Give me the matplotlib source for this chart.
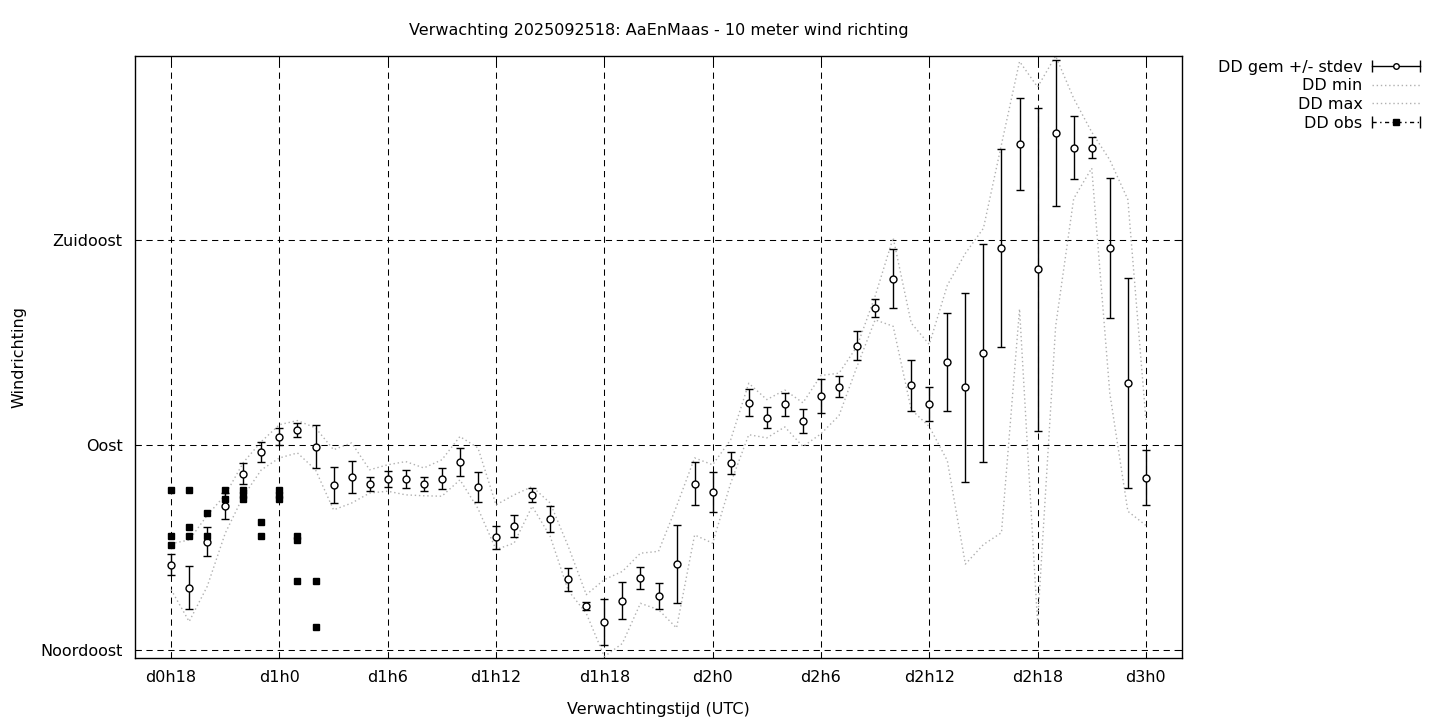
import numpy as np
import matplotlib
matplotlib.use("Agg")
import matplotlib.pyplot as plt
from matplotlib.lines import Line2D
from matplotlib.legend_handler import HandlerLine2D, HandlerTuple

# forecast hours (hours after d0h0)
hours = list(range(18, 73))

dd_gem = [63.7, 58.6, 68.7, 76.6, 83.6, 88.5, 91.8, 93.3, 89.6, 81.2,
          83.0, 81.4, 82.5, 82.5, 81.4, 82.5, 86.2, 80.7, 69.7, 72.2,
          79.0, 73.7, 60.5, 54.6, 51.1, 55.8, 60.7, 56.8, 63.8, 81.4,
          79.6, 86.0, 99.2, 95.9, 98.9, 95.2, 100.7, 102.7, 111.7, 120.0,
          126.4, 103.1, 99.0, 108.2, 102.6, 110.1, 133.2, 156.0, 128.5, 158.4,
          155.2, 155.2, 133.2, 103.5, 82.8]
dd_std = [2.3, 4.7, 3.2, 2.9, 2.3, 2.2, 1.8, 1.5, 4.8, 4.0,
          3.5, 1.5, 1.7, 2.0, 1.5, 2.3, 3.0, 3.3, 2.5, 2.4,
          1.5, 2.8, 2.5, 0.8, 5.0, 4.1, 2.4, 2.85, 8.6, 4.7,
          4.4, 2.5, 3.0, 2.3, 2.5, 2.6, 3.8, 2.3, 3.2, 1.9,
          6.5, 5.6, 3.7, 10.7, 20.7, 24.0, 21.7, 10.0, 35.4, 16.0,
          7.0, 2.3, 15.3, 23.0, 6.0]
dd_min = [58.2, 51.2, 58.9, 70.6, 78.7, 84.5, 87.1, 88.2, 84.5, 75.7,
          77.2, 79.4, 79.8, 79.0, 78.8, 78.7, 82.3, 76.0, 67.0, 68.4,
          76.5, 69.9, 58.0, 53.0, 43.5, 46.4, 55.2, 53.8, 49.8, 70.2,
          68.4, 81.6, 92.2, 91.5, 93.9, 89.6, 92.4, 96.4, 107.2, 117.4,
          116.0, 97.7, 94.0, 86.5, 63.8, 68.1, 70.7, 119.8, 50.8, 116.0,
          144.0, 150.7, 101.3, 75.4, 72.3]
dd_max = [68.3, 69.1, 74.5, 79.0, 86.1, 90.7, 94.4, 95.3, 93.7, 88.9,
          90.4, 84.5, 85.6, 86.3, 84.9, 86.7, 91.8, 89.3, 76.8, 79.0,
          80.8, 77.2, 67.7, 57.1, 60.4, 62.2, 66.2, 66.6, 76.5, 87.1,
          85.6, 91.1, 103.5, 99.9, 102.0, 99.2, 105.2, 105.7, 111.6, 122.6,
          135.4, 116.7, 112.0, 125.0, 132.0, 137.5, 155.9, 174.1, 168.5, 175.3,
          166.0, 158.6, 152.5, 143.8, 95.5]

# observations
obs_hours = [18, 18, 18, 19, 19, 19, 20, 20, 21, 21, 22, 22, 22,
             23, 23, 24, 24, 24, 25, 25, 25, 26, 26]
obs_dd = [80, 70, 68, 80, 72, 70, 75, 70, 80, 78, 80, 79, 78,
          73, 70, 80, 79, 78, 70, 69, 60, 60, 50]

xticks = [18, 24, 30, 36, 42, 48, 54, 60, 66, 72]
xlabels = ["d0h18", "d1h0", "d1h6", "d1h12", "d1h18", "d2h0",
           "d2h6", "d2h12", "d2h18", "d3h0"]
yticks = [45, 90, 135]
ylabels = ["Noordoost", "Oost", "Zuidoost"]

plt.rcParams["font.family"] = "DejaVu Sans"
plt.rcParams["font.size"] = 11.5

fig = plt.figure(figsize=(14.4, 7.2), dpi=100)
ax = fig.add_axes([135 / 1440, 62 / 720, (1182 - 135) / 1440, (664 - 62) / 720])

grid_ls = (0, (6, 4.5))
dot_ls = (0, (1, 2))
dot_col = "#b0b0b0"
for x in xticks:
    ax.axvline(x, color="black", lw=0.75, linestyle=grid_ls, zorder=1)
for y in yticks:
    ax.axhline(y, color="black", lw=0.75, linestyle=grid_ls, zorder=1)

ax.plot(hours, dd_min, color=dot_col, lw=1.0, linestyle=dot_ls, zorder=2)
ax.plot(hours, dd_max, color=dot_col, lw=1.0, linestyle=dot_ls, zorder=2)

ax.errorbar(hours, dd_gem, yerr=dd_std, fmt="o", color="black", ecolor="black",
            elinewidth=1.0, capsize=2.8, capthick=1.0, markersize=5,
            markerfacecolor="white", markeredgecolor="black", markeredgewidth=1.0,
            zorder=3)
ax.plot(obs_hours, obs_dd, "s", color="black", markersize=5, zorder=4)

ax.set_xlim(16, 74)
ax.set_ylim(43.2, 175.3)
ax.set_xticks(xticks)
ax.set_xticklabels(xlabels)
ax.set_yticks(yticks)
ax.set_yticklabels(ylabels)
ax.tick_params(direction="in", length=4, width=0.75, top=True, right=True, pad=9)
for sp in ax.spines.values():
    sp.set_linewidth(1.0)

ax.set_title("Verwachting 2025092518: AaEnMaas - 10 meter wind richting",
             fontsize=11.5, pad=15)
ax.set_xlabel("Verwachtingstijd (UTC)", labelpad=12)
ax.set_ylabel("Windrichting", labelpad=10)

# legend handles in gnuplot style: |--o--|
caps1 = Line2D([], [], color="black", lw=1.0, marker="|", markersize=8)
mid1 = Line2D([], [], color="none", marker="o", markersize=4,
              markerfacecolor="white", markeredgecolor="black")
hmin = Line2D([], [], color=dot_col, lw=1.0, linestyle=dot_ls)
hmax = Line2D([], [], color=dot_col, lw=1.0, linestyle=dot_ls)
caps2 = Line2D([], [], color="black", lw=1.0, marker="|", markersize=8,
               linestyle=(0, (3, 2.5, 1, 2.5)))
mid2 = Line2D([], [], color="none", marker="s", markersize=5,
              markerfacecolor="black", markeredgecolor="black")

leg = ax.legend([(caps1, mid1), hmin, hmax, (caps2, mid2)],
                ["DD gem +/- stdev", "DD min", "DD max", "DD obs"],
                handler_map={tuple: HandlerTuple(ndivide=1, pad=0),
                             caps1: HandlerLine2D(numpoints=2, marker_pad=0),
                             caps2: HandlerLine2D(numpoints=2, marker_pad=0),
                             mid1: HandlerLine2D(numpoints=1),
                             mid2: HandlerLine2D(numpoints=1)},
                markerfirst=False, frameon=False, loc="upper right",
                bbox_to_anchor=(1428 / 1440, 1 - 52 / 720),
                bbox_transform=fig.transFigure, borderpad=0,
                labelspacing=0.22, handlelength=3.0, handletextpad=0.6)

fig.savefig("out.png", dpi=100)
